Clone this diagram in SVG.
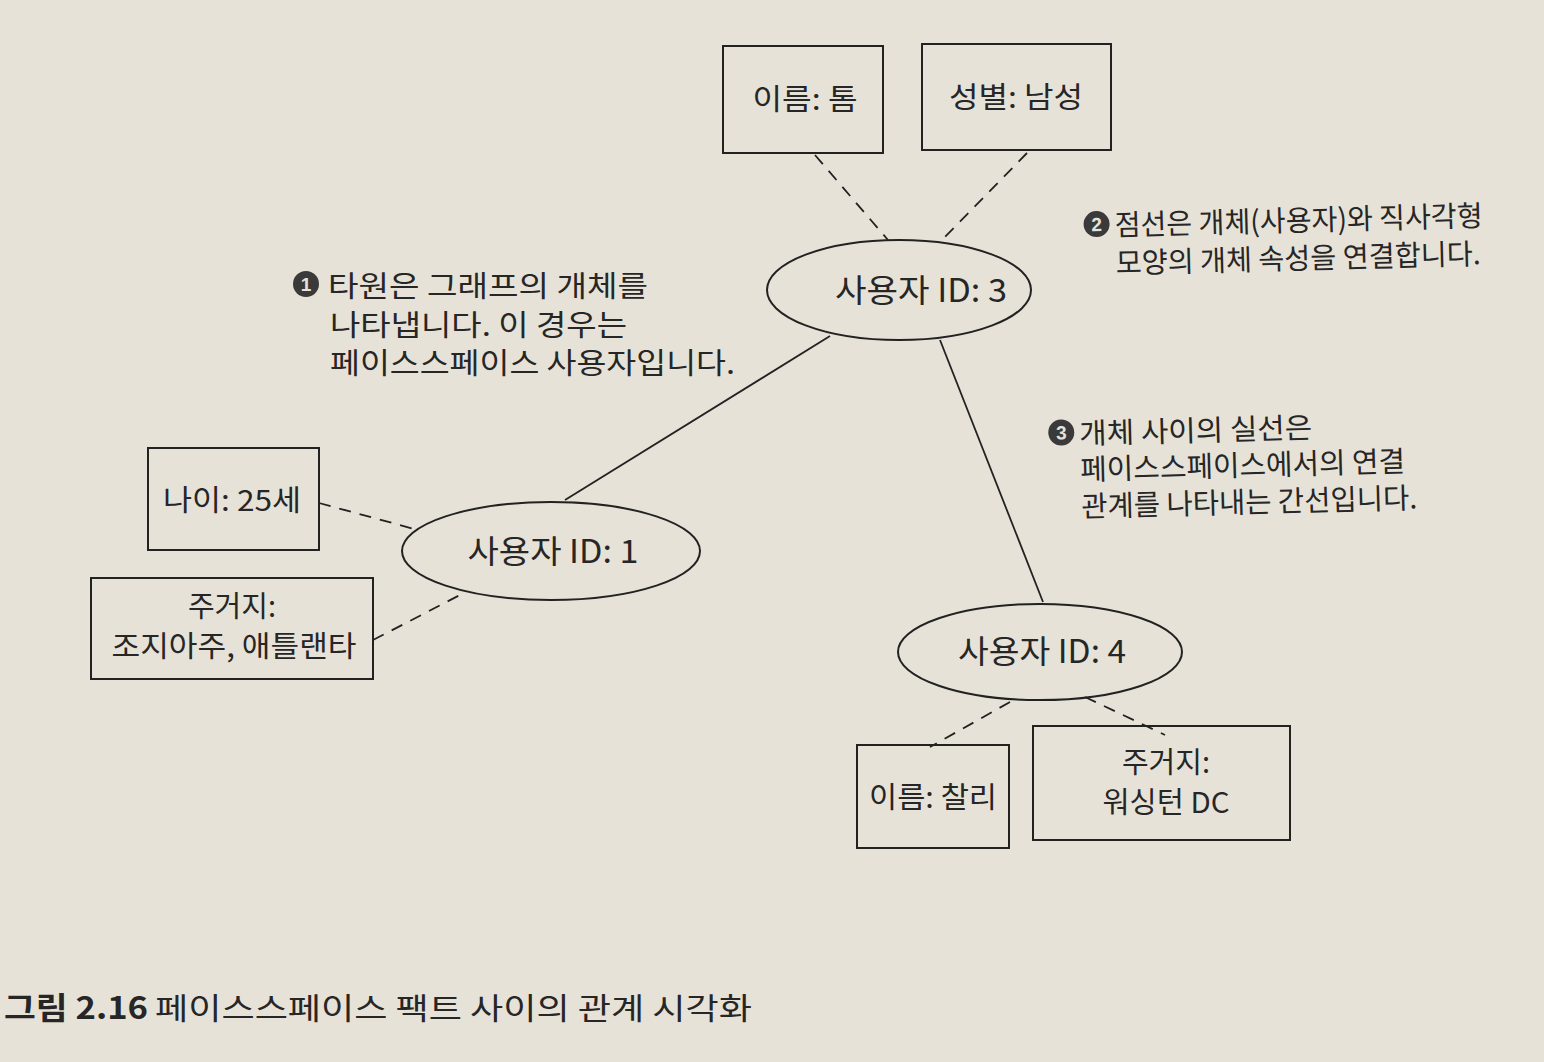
<svg xmlns="http://www.w3.org/2000/svg" width="1544" height="1062" viewBox="0 0 1544 1062">
<style>
.bg{fill:#e7e2d8}
.box{fill:none;stroke:#222;stroke-width:2}
.ell{fill:none;stroke:#222;stroke-width:2}
.t{font-family:"Noto Sans CJK KR","Noto Sans",sans-serif;fill:#262626}
.n{font-size:32px;text-anchor:middle}
.b{font-size:29px;text-anchor:middle}
.a{font-size:29px}
.dash{stroke:#222;stroke-width:1.8;stroke-dasharray:12 9;fill:none}
.solid{stroke:#222;stroke-width:1.8;fill:none}
.num{fill:#3a3a3a}
.numt{font-family:"Liberation Sans",sans-serif;font-size:19px;font-weight:bold;fill:#e7e2d8;text-anchor:middle}
</style>
<rect class="bg" x="0" y="0" width="1544" height="1062"/>
<g id="connectors">
<line class="dash" x1="815" y1="155" x2="888" y2="240"/>
<line class="dash" x1="1027" y1="153" x2="942" y2="240"/>
<line class="dash" x1="319" y1="503" x2="418" y2="530"/>
<line class="dash" x1="373" y1="640" x2="460" y2="595"/>
<line class="dash" x1="1010" y1="702" x2="930" y2="747"/>
<line class="dash" x1="1085" y1="697" x2="1165" y2="735"/>
<line class="solid" x1="830" y1="336" x2="565" y2="500"/>
<line class="solid" x1="940" y1="340" x2="1043" y2="602"/>
</g>
<g id="name-tom">
<rect class="box" x="723" y="46" width="160" height="107"/>
<text class="t b" x="805" y="110" textLength="105" lengthAdjust="spacingAndGlyphs">이름: 톰</text>
</g>
<g id="gender-male">
<rect class="box" x="922" y="44" width="189" height="106"/>
<text class="t b" x="1016" y="108" textLength="134" lengthAdjust="spacingAndGlyphs">성별: 남성</text>
</g>
<g id="user3">
<ellipse class="ell" cx="899" cy="290" rx="132" ry="50"/>
<text class="t n" x="921" y="302" textLength="172" lengthAdjust="spacingAndGlyphs">사용자 ID: 3</text>
</g>
<g id="user1">
<ellipse class="ell" cx="551" cy="551" rx="149" ry="49"/>
<text class="t n" x="553" y="563" textLength="171" lengthAdjust="spacingAndGlyphs">사용자 ID: 1</text>
</g>
<g id="user4">
<ellipse class="ell" cx="1040" cy="652" rx="142" ry="48"/>
<text class="t n" x="1042" y="663" textLength="168" lengthAdjust="spacingAndGlyphs">사용자 ID: 4</text>
</g>
<g id="age">
<rect class="box" x="148" y="448" width="171" height="102"/>
<text class="t b" x="232" y="511" textLength="138" lengthAdjust="spacingAndGlyphs">나이: 25세</text>
</g>
<g id="residence-atlanta">
<rect class="box" x="91" y="578" width="282" height="101"/>
<text class="t b" x="232" y="617">주거지:</text>
<text class="t b" x="234" y="657" textLength="245" lengthAdjust="spacingAndGlyphs">조지아주, 애틀랜타</text>
</g>
<g id="name-charlie">
<rect class="box" x="857" y="745" width="152" height="103"/>
<text class="t b" x="933" y="808" textLength="128" lengthAdjust="spacingAndGlyphs">이름: 찰리</text>
</g>
<g id="residence-dc">
<rect class="box" x="1033" y="726" width="257" height="114"/>
<text class="t b" x="1166" y="773">주거지:</text>
<text class="t b" x="1166" y="813" textLength="127" lengthAdjust="spacingAndGlyphs">워싱턴 DC</text>
</g>
<g id="note1">
<circle class="num" cx="306" cy="284" r="13"/>
<text class="numt" x="306" y="291">1</text>
<text class="t a" x="328" y="297" textLength="320" lengthAdjust="spacingAndGlyphs">타원은 그래프의 개체를</text>
<text class="t a" x="330" y="336" textLength="297" lengthAdjust="spacingAndGlyphs">나타냅니다. 이 경우는</text>
<text class="t a" x="330" y="374" textLength="405" lengthAdjust="spacingAndGlyphs">페이스스페이스 사용자입니다.</text>
</g>
<g id="note2" transform="rotate(-1.5 1100 240)">
<circle class="num" cx="1097" cy="224" r="13"/>
<text class="numt" x="1097" y="231">2</text>
<text class="t a" x="1115" y="236" textLength="368" lengthAdjust="spacingAndGlyphs">점선은 개체(사용자)와 직사각형</text>
<text class="t a" x="1115" y="274" textLength="365" lengthAdjust="spacingAndGlyphs">모양의 개체 속성을 연결합니다.</text>
</g>
<g id="note3" transform="rotate(-1.5 1080 460)">
<circle class="num" cx="1062" cy="432" r="13"/>
<text class="numt" x="1062" y="439">3</text>
<text class="t a" x="1080" y="444" textLength="233" lengthAdjust="spacingAndGlyphs">개체 사이의 실선은</text>
<text class="t a" x="1080" y="480" textLength="325" lengthAdjust="spacingAndGlyphs">페이스스페이스에서의 연결</text>
<text class="t a" x="1080" y="517" textLength="336" lengthAdjust="spacingAndGlyphs">관계를 나타내는 간선입니다.</text>
</g>
<g id="caption">
<text class="t" x="4" y="1019" font-size="31" font-weight="bold" textLength="144" lengthAdjust="spacingAndGlyphs">그림 2.16</text>
<text class="t" x="155" y="1019" font-size="30" textLength="597" lengthAdjust="spacingAndGlyphs">페이스스페이스 팩트 사이의 관계 시각화</text>
</g>
</svg>
